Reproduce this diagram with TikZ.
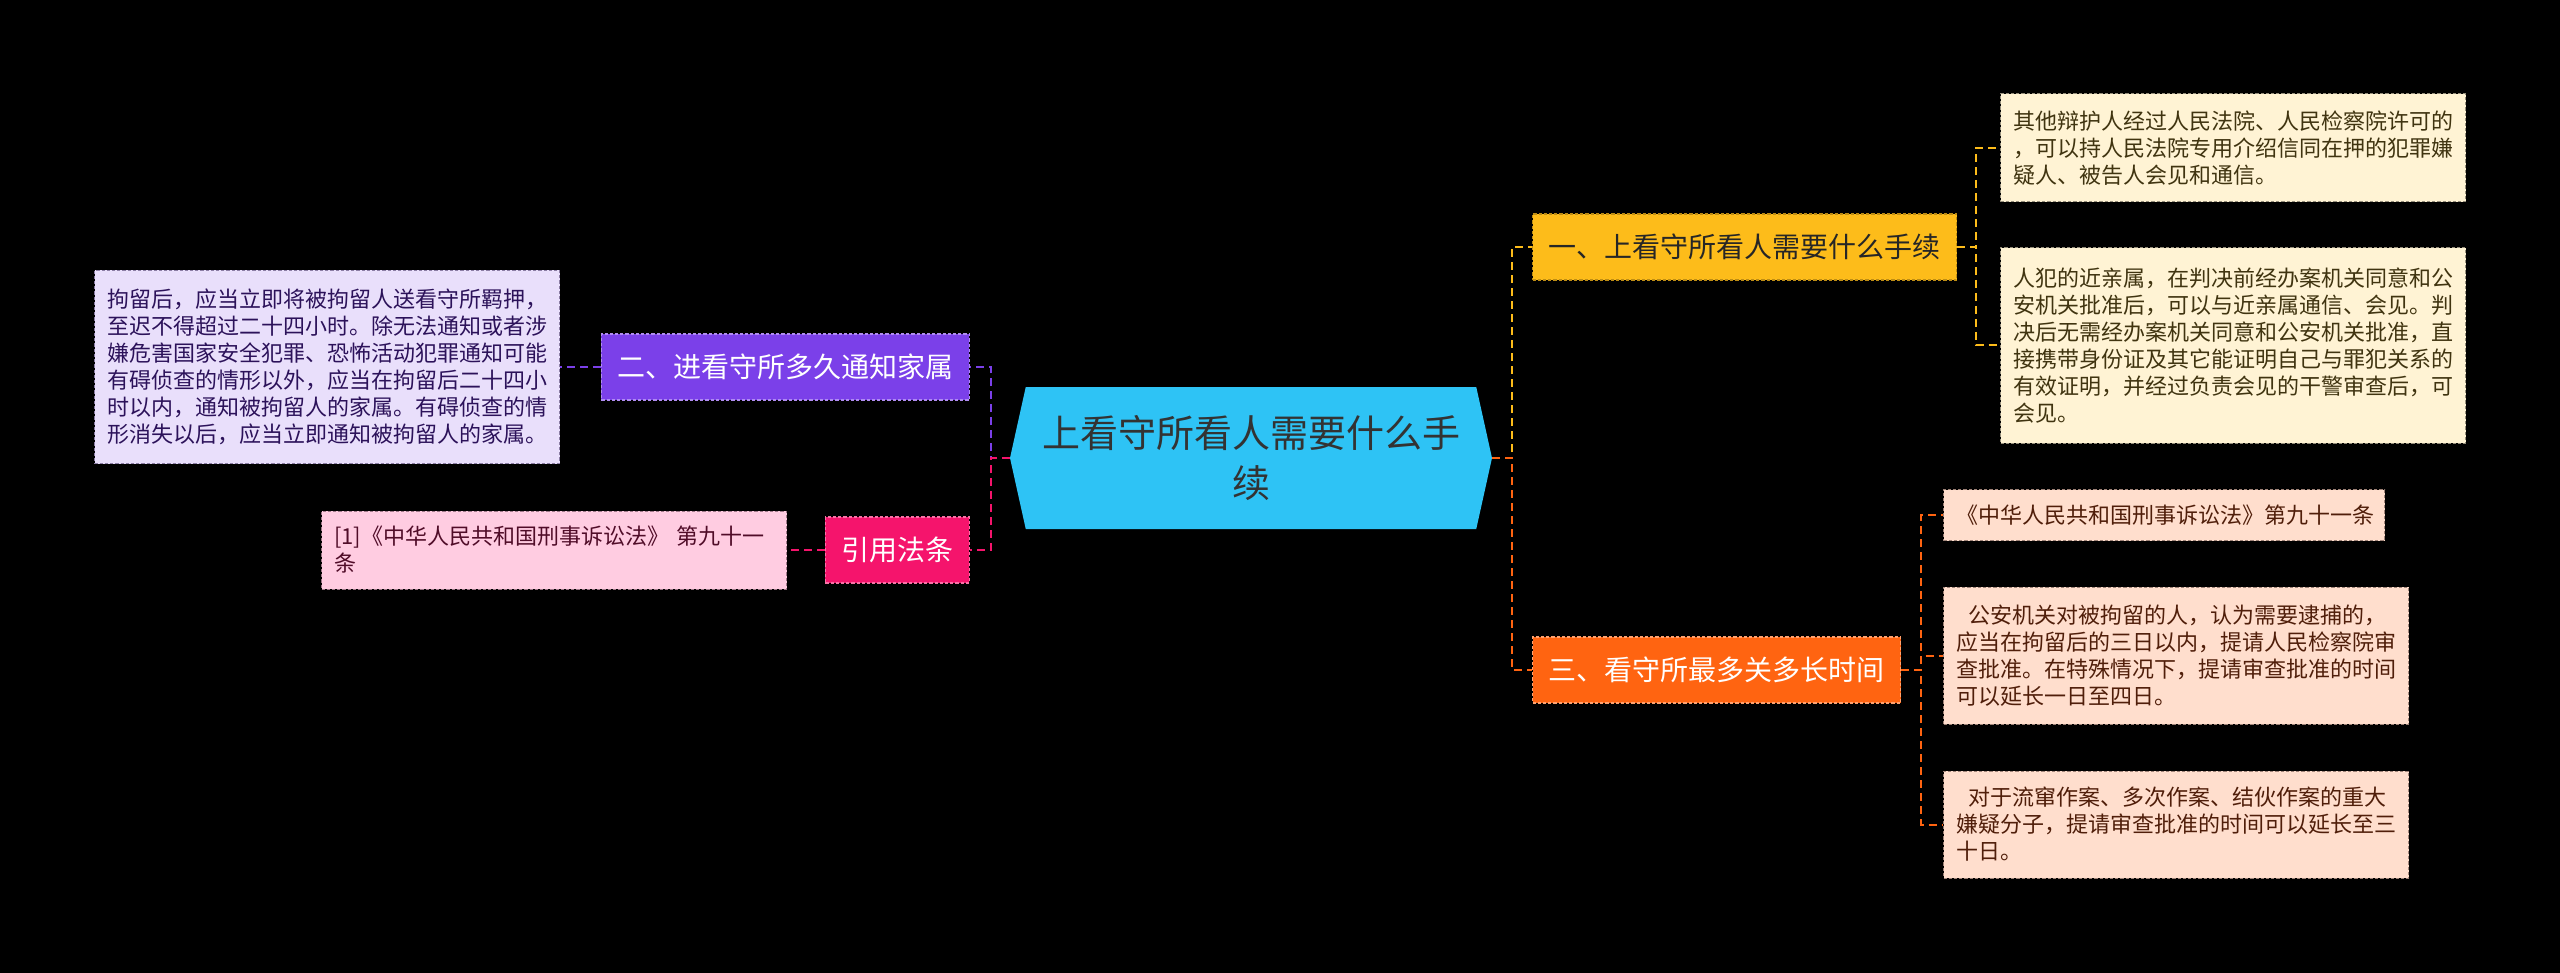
\documentclass[tikz,border=0pt]{standalone}
\usepackage{fontspec}
\setmainfont{Noto Sans CJK SC}
\usetikzlibrary{shapes.symbols}
\definecolor{rootblue}{RGB}{46,195,245}
\definecolor{yelfill}{RGB}{253,188,26}
\definecolor{yelsoft}{RGB}{255,243,212}
\definecolor{yeltext}{RGB}{64,52,16}
\definecolor{orgfill}{RGB}{255,100,17}
\definecolor{orgsoft}{RGB}{255,222,205}
\definecolor{orgtext}{RGB}{80,30,10}
\definecolor{purfill}{RGB}{123,64,233}
\definecolor{pursoft}{RGB}{233,223,251}
\definecolor{purtext}{RGB}{44,18,90}
\definecolor{pnkfill}{RGB}{245,20,108}
\definecolor{pnksoft}{RGB}{255,204,225}
\definecolor{pnktext}{RGB}{80,12,40}
\tikzset{
  link/.style={line width=1pt,dash pattern=on 4pt off 2.5pt},
  topic/.style={draw,line width=0.6pt,dash pattern=on 1.6pt off 1pt,minimum height=33pt,
                inner xsep=8pt,font=\fontsize{14}{17}\selectfont,text=white},
  leaf/.style={draw,line width=0.5pt,dash pattern=on 1.6pt off 1pt,align=left,text width=220pt,
               inner xsep=6.25pt,inner ysep=4pt,font=\fontsize{11}{13.5}\selectfont},
  yleaf/.style={leaf,fill=yelsoft,draw=yeltext!55,text=yeltext},
  oleaf/.style={leaf,fill=orgsoft,draw=orgtext!55,text=orgtext},
  pleaf/.style={leaf,fill=pursoft,draw=purtext!55,text=purtext},
  kleaf/.style={leaf,fill=pnksoft,draw=pnktext!55,text=pnktext},
}
\begin{document}
\begin{tikzpicture}[x=0.5pt,y=-0.5pt]
  \path[use as bounding box,fill=black] (0,0) rectangle (2560,973);

  \node[signal,signal to=west and east,signal pointer angle=155,fill=rootblue,
        minimum width=241pt,minimum height=71pt,align=center,text=black!80,
        font=\fontsize{19}{25}\selectfont] (root) at (1251,458)
    {上看守所看人需要什么手\\续};

  % right branches
  \node[topic,fill=yelfill,draw=yelfill!75!black,text=black!85,anchor=west] (yel) at (1532,247)
    {一、上看守所看人需要什么手续};
  \node[topic,fill=orgfill,draw=orgfill!60!white,anchor=west] (org) at (1532,670)
    {三、看守所最多关多长时间};

  \node[yleaf,anchor=west,minimum height=54pt] (yc1) at (2000,148)
    {其他辩护人经过人民法院、人民检察院许可的\\，可以持人民法院专用介绍信同在押的犯罪嫌\\疑人、被告人会见和通信。};
  \node[yleaf,anchor=west,minimum height=97.5pt] (yc2) at (2000,345.5)
    {人犯的近亲属，在判决前经办案机关同意和公\\安机关批准后，可以与近亲属通信、会见。判\\决后无需经办案机关同意和公安机关批准，直\\接携带身份证及其它能证明自己与罪犯关系的\\有效证明，并经过负责会见的干警审查后，可\\会见。};

  \node[oleaf,anchor=west,text width=208pt,minimum height=25.5pt] (oc1) at (1943,515)
    {《中华人民共和国刑事诉讼法》第九十一条};
  \node[oleaf,anchor=west,minimum height=68.5pt] (oc2) at (1943,655.5)
    {\hspace*{6pt}公安机关对被拘留的人，认为需要逮捕的，\\应当在拘留后的三日以内，提请人民检察院审\\查批准。在特殊情况下，提请审查批准的时间\\可以延长一日至四日。};
  \node[oleaf,anchor=west,minimum height=53.5pt] (oc3) at (1943,824.5)
    {\hspace*{6pt}对于流窜作案、多次作案、结伙作案的重大\\嫌疑分子，提请审查批准的时间可以延长至三\\十日。};

  % left branches
  \node[topic,fill=purfill,draw=purfill!60!white,anchor=east] (pur) at (970,367)
    {二、进看守所多久通知家属};
  \node[topic,fill=pnkfill,draw=pnkfill!60!white,anchor=east] (pnk) at (970,550)
    {引用法条};

  \node[pleaf,anchor=east,minimum height=96.5pt] (pc1) at (560,367)
    {拘留后，应当立即将被拘留人送看守所羁押，\\至迟不得超过二十四小时。除无法通知或者涉\\嫌危害国家安全犯罪、恐怖活动犯罪通知可能\\有碍侦查的情形以外，应当在拘留后二十四小\\时以内，通知被拘留人的家属。有碍侦查的情\\形消失以后，应当立即通知被拘留人的家属。};
  \node[kleaf,anchor=east,minimum height=39pt] (kc1) at (787,550)
    {[1]《中华人民共和国刑事诉讼法》~第九十一\\条};

  % connectors
  \draw[link,yelfill] (root.east) -- ++(20,0) |- (yel.west);
  \draw[link,orgfill] (root.east) -- ++(20,0) |- (org.west);
  \draw[link,yelfill] (yel.east) -- ++(19,0) |- (yc1.west);
  \draw[link,yelfill] (yel.east) -- ++(19,0) |- (yc2.west);
  \draw[link,orgfill] (org.east) -- ++(20,0) |- (oc1.west);
  \draw[link,orgfill] (org.east) -- ++(20,0) |- (oc2.west);
  \draw[link,orgfill] (org.east) -- ++(20,0) |- (oc3.west);
  \draw[link,purfill] (root.west) -- ++(-19,0) |- (pur.east);
  \draw[link,pnkfill] (root.west) -- ++(-19,0) |- (pnk.east);
  \draw[link,purfill] (pur.west) -- (pc1.east);
  \draw[link,pnkfill] (pnk.west) -- (kc1.east);
\end{tikzpicture}
\end{document}
